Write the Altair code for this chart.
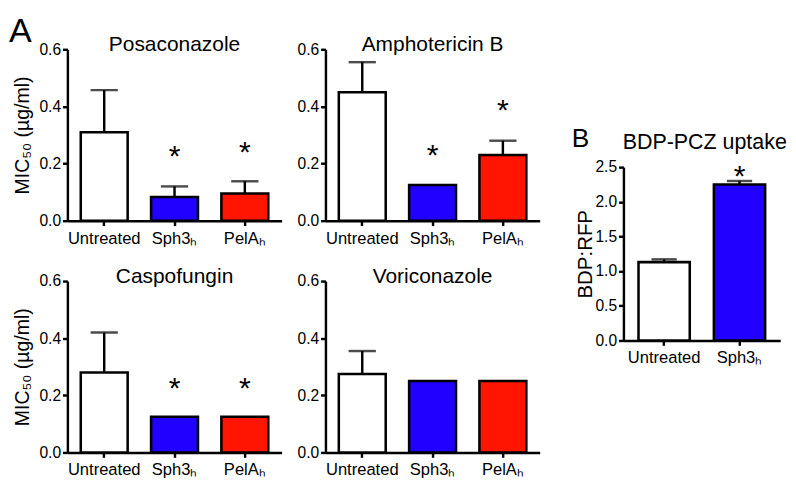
import altair as alt
import pandas as pd

FONT = "Liberation Sans"

# ---- data ----
groups3 = ["Untreated", "Sph3ₕ", "PelAₕ"]
groups2 = ["Untreated", "Sph3ₕ"]
fills3 = ["#ffffff", "#2100ff", "#ff1500"]
fills2 = ["#ffffff", "#2100ff"]

posa_mean = [0.31, 0.083, 0.095]
posa_upper = [0.457, 0.120, 0.138]
posa_star = [None, 0.241, 0.256]

ampho_mean = [0.45, 0.125, 0.23]
ampho_upper = [0.555, None, 0.28]
ampho_star = [None, 0.246, 0.405]

caspo_mean = [0.28, 0.125, 0.125]
caspo_upper = [0.42, None, None]
caspo_star = [None, 0.241, 0.241]

vori_mean = [0.275, 0.25, 0.25]
vori_upper = [0.355, None, None]
vori_star = [None, None, None]

bdp_mean = [1.13, 2.25]
bdp_upper = [1.17, 2.30]
bdp_star = [None, 2.44]

mic_ticks = [0.0, 0.2, 0.4, 0.6]
bdp_ticks = [0.0, 0.5, 1.0, 1.5, 2.0, 2.5]


def panel(title, groups, means, uppers, stars, fills, ymax, yvalues, ytitle,
          width, height, pI, pO, cap, title_y, title_dx=0, title_size=21.5, letter=None,
          letter_x=0, letter_y=0, letter_size=35, ytitle_size=20, ytitle_pad=7):
    df = pd.DataFrame({"group": groups, "mean": means, "upper": uppers,
                       "star": stars, "fill": fills})
    base = alt.Chart(df)
    x = alt.X("group:N", sort=groups,
              scale=alt.Scale(paddingInner=pI, paddingOuter=pO),
              axis=alt.Axis(title=None, labelAngle=0))
    if ytitle:
        ax = alt.Axis(values=yvalues, format=".1f", title=ytitle,
                      titlePadding=ytitle_pad, titleFontSize=ytitle_size)
    else:
        ax = alt.Axis(values=yvalues, format=".1f", title=None)

    def yenc(field):
        return alt.Y(field, scale=alt.Scale(domain=[0, ymax], nice=False), axis=ax)

    bars = base.mark_bar(stroke="black", strokeWidth=2.6, strokeJoin="miter").encode(
        x=x, y=yenc("mean:Q"), fill=alt.Fill("fill:N", scale=None))
    err = base.transform_filter("isValid(datum.upper)").mark_rule(
        color="black", strokeWidth=2.5).encode(x=x, y=yenc("mean:Q"), y2="upper:Q")
    caps = base.transform_filter("isValid(datum.upper)").mark_tick(
        color="black", thickness=2.5, size=cap).encode(x=x, y=yenc("upper:Q"))
    star = base.transform_filter("isValid(datum.star)").mark_text(
        text="*", fontSize=31, font=FONT, baseline="middle", dy=6, color="black").encode(
        x=x, y=yenc("star:Q"))
    ttl = alt.Chart(pd.DataFrame({"t": [title]})).mark_text(
        fontSize=title_size, font=FONT, baseline="alphabetic", align="center", color="black").encode(
        text="t:N", x=alt.value(width / 2 + title_dx), y=alt.value(title_y))
    layers = [bars, err, caps, star, ttl]
    if letter:
        lt = alt.Chart(pd.DataFrame({"t": [letter]})).mark_text(
            fontSize=letter_size, font=FONT, baseline="alphabetic", align="left",
            color="black").encode(text="t:N", x=alt.value(letter_x), y=alt.value(letter_y))
        layers.append(lt)
    return alt.layer(*layers).properties(width=width, height=height)


W1, W2, H = 220, 220, 176
p1 = panel("Posaconazole", groups3, posa_mean, posa_upper, posa_star, fills3,
           0.6, mic_ticks, "MIC₅₀ (µg/ml)", W1, H, 0.333, 0.19, 28, 2,
           letter="A", letter_x=-60, letter_y=-7)
p2 = panel("Amphotericin B", groups3, ampho_mean, ampho_upper, ampho_star, fills3,
           0.6, mic_ticks, None, W2, H, 0.333, 0.19, 28, 2)
p3 = panel("Caspofungin", groups3, caspo_mean, caspo_upper, caspo_star, fills3,
           0.6, mic_ticks, "MIC₅₀ (µg/ml)", W1, H, 0.333, 0.19, 28, 2)
p4 = panel("Voriconazole", groups3, vori_mean, vori_upper, vori_star, fills3,
           0.6, mic_ticks, None, W2, H, 0.333, 0.19, 28, 2)
pb = panel("BDP-PCZ uptake", groups2, bdp_mean, bdp_upper, bdp_star, fills2,
           2.5, bdp_ticks, "BDP:RFP", 161, 178, 0.32, 0.2, 26, -19, title_dx=3,
           title_size=22, letter="B", letter_x=-53, letter_y=-21, letter_size=27,
           ytitle_size=21, ytitle_pad=0)

spacer = alt.Chart(pd.DataFrame({"v": [0]})).mark_point(opacity=0, size=1).encode(
    x=alt.value(0), y=alt.value(0)).properties(width=20, height=76)

row1 = alt.hconcat(p1, p2, spacing=14)
row2 = alt.hconcat(p3, p4, spacing=14)
left = alt.vconcat(row1, row2, spacing=19)
right = alt.vconcat(spacer, pb, spacing=0)

chart = alt.hconcat(left, right, spacing=31).properties(padding=0).configure_view(
    stroke="transparent"
).configure_axis(
    domainColor="black", domainWidth=2.5, tickColor="black", tickWidth=2.5,
    tickSize=5, labelColor="black", labelFont=FONT, labelFontSize=16,
    titleFont=FONT, titleFontSize=20, titleFontWeight="normal", titleColor="black",
    grid=False
).configure_axisX(labelPadding=5, labelFontSize=17).configure_axisY(labelPadding=2)

chart.save("out.html", embed_options={"renderer": "svg", "actions": False})
